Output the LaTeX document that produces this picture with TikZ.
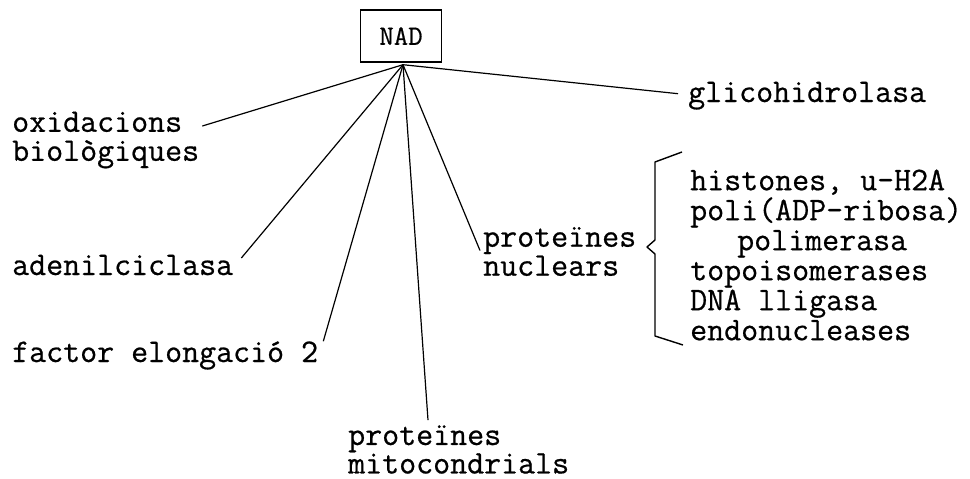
\documentclass[tikz,border=0pt]{standalone}
\usepackage{fontspec}
\usetikzlibrary{positioning, calc}
\newfontfamily\twfam{Latin Modern Mono}[FakeBold=0.6]
\newcommand{\twfont}{\fontsize{33}{29}\selectfont\twfam}

\begin{document}
\begin{tikzpicture}[
    x=1pt, y=-1pt,
    nadbox/.style={
        draw=black,
        line width=1.4pt,
        minimum width=81pt,
        minimum height=52pt,
        inner sep=0pt,
        font=\fontsize{28}{28}\selectfont\twfam
    },
    labeltext/.style={
        inner sep=0pt,
        align=left,
        font=\twfont
    },
    spoke/.style={line width=1.2pt},
    bracket/.style={line width=1.4pt, line join=round}
]
\useasboundingbox (0,0) rectangle (970,479);
% ============================================================
% CENTRAL NODE
% ============================================================
\node[nadbox] (nad) at (401,36) {NAD};
\coordinate (hub) at ($(nad.south)+(2,2)$);
% ============================================================
% LABELS -- left column, bottom and right side
% ============================================================
\node[labeltext, anchor=base west] (glico) at (688,102) {glicohidrolasa};
\node[labeltext, anchor=west] (oxid) at (12,140) {oxidacions\\biològiques};
\node[labeltext, anchor=base west] (adenil) at (12,275) {adenilciclasa};
\node[labeltext, anchor=base west] (factor) at (12,362) {factor elongació 2};
\node[labeltext, anchor=west, font=\fontsize{33}{27}\selectfont\twfam]
    (mito) at (348,449.5) {proteïnes\\mitocondrials};
\node[labeltext, anchor=west] (nucl) at (483,251.5) {proteïnes\\nuclears};
% list of nuclear proteins, behind the brace
\node[labeltext, anchor=west, font=\fontsize{33}{30}\selectfont\twfam]
    (enzims) at (690,255) {histones, u-H2A\\poli(ADP-ribosa)\\\hspace*{47pt}polimerasa\\topoisomerases\\DNA lligasa\\endonucleases};
% ============================================================
% SPOKES -- all leave from the foot of the NAD box
% ============================================================
\draw[spoke] (hub) -- ($(glico.west)+(-10,-2)$);
\draw[spoke] (hub) -- ($(oxid.east)+(3,-14)$);
\draw[spoke] (hub) -- ($(adenil.east)+(8,-7)$);
\draw[spoke] (hub) -- ($(factor.north east)+(5,0)$);
\draw[spoke] (hub) -- ($(mito.north west)+(80,-5)$);
\draw[spoke] (hub) -- ($(nucl.west)+(-3,-1)$);
% ============================================================
% BRACE
% ============================================================
\draw[bracket] (682,152) -- (655,162) -- (655,240) -- (647,247)
    -- (655,254) -- (655,336) -- (683,345);
\end{tikzpicture}
\end{document}
